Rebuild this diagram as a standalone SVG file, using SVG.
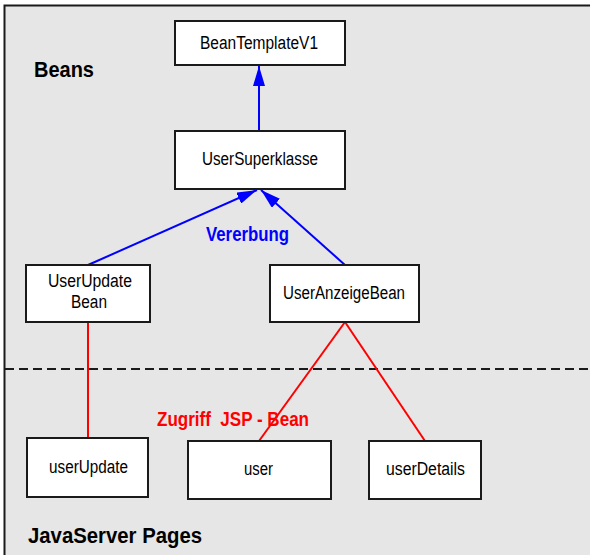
<svg xmlns="http://www.w3.org/2000/svg" width="590" height="555" viewBox="0 0 590 555">
  <style>
    .box { fill: #ffffff; stroke: #1a1a1a; stroke-width: 2; }
    .lbl { font-family: "Liberation Sans", Arial, sans-serif; font-size: 18px; fill: #000; text-anchor: middle; }
    .title { font-family: "Liberation Sans", Arial, sans-serif; font-size: 22px; font-weight: bold; }
    .inherit { stroke: #0000ff; stroke-width: 2; fill: none; marker-end: url(#tri); }
    .access { stroke: #ff0000; stroke-width: 2; fill: none; }
  </style>
  <defs>
    <marker id="tri" markerUnits="userSpaceOnUse" markerWidth="22" markerHeight="12" refX="20" refY="6" orient="auto">
      <path d="M0,0 L20,6 L0,12 Z" fill="#0000ff"/>
    </marker>
  </defs>

  <!-- frame -->
  <rect x="4.5" y="5.5" width="590" height="560" fill="#e6e6e6" stroke="#1a1a1a" stroke-width="2"/>
  <line x1="5" y1="369" x2="590" y2="369" stroke="#1a1a1a" stroke-width="2" stroke-dasharray="9,5"/>

  <!-- section titles -->
  <text class="title" x="34" y="77" textLength="60" lengthAdjust="spacingAndGlyphs">Beans</text>
  <text class="title" x="28" y="543" textLength="174" lengthAdjust="spacingAndGlyphs">JavaServer Pages</text>

  <!-- connectors -->
  <g id="connectors">
    <line class="inherit" x1="259" y1="131" x2="259" y2="66"/>
    <line class="inherit" x1="88" y1="265" x2="257" y2="190"/>
    <line class="inherit" x1="345" y1="265" x2="261" y2="190"/>
    <line class="access" x1="88" y1="322" x2="88" y2="438"/>
    <line class="access" x1="345" y1="322" x2="259" y2="441"/>
    <line class="access" x1="345" y1="322" x2="425" y2="441"/>
    <text x="206" y="241" font-family="Liberation Sans, Arial, sans-serif" font-size="20" font-weight="bold" fill="#0000ff" textLength="83" lengthAdjust="spacingAndGlyphs">Vererbung</text>
    <text x="157" y="426" font-family="Liberation Sans, Arial, sans-serif" font-size="20" font-weight="bold" fill="#ff0000" textLength="152" lengthAdjust="spacingAndGlyphs" xml:space="preserve">Zugriff  JSP - Bean</text>
  </g>

  <!-- bean classes -->
  <g id="BeanTemplateV1">
    <rect class="box" x="175" y="21" width="170" height="44"/>
    <text class="lbl" x="259" y="49" textLength="118" lengthAdjust="spacingAndGlyphs">BeanTemplateV1</text>
  </g>
  <g id="UserSuperklasse">
    <rect class="box" x="175" y="131" width="170" height="58"/>
    <text class="lbl" x="260" y="165" textLength="116" lengthAdjust="spacingAndGlyphs">UserSuperklasse</text>
  </g>
  <g id="UserUpdateBean">
    <rect class="box" x="26" y="265" width="124" height="57"/>
    <text class="lbl" x="90" y="287" textLength="84" lengthAdjust="spacingAndGlyphs">UserUpdate</text>
    <text class="lbl" x="89" y="308" textLength="36" lengthAdjust="spacingAndGlyphs">Bean</text>
  </g>
  <g id="UserAnzeigeBean">
    <rect class="box" x="270" y="265" width="149" height="57"/>
    <text class="lbl" x="344" y="299" textLength="122" lengthAdjust="spacingAndGlyphs">UserAnzeigeBean</text>
  </g>

  <!-- JSP pages -->
  <g id="userUpdate">
    <rect class="box" x="27" y="438" width="121" height="59"/>
    <text class="lbl" x="88.5" y="473" textLength="79" lengthAdjust="spacingAndGlyphs">userUpdate</text>
  </g>
  <g id="user">
    <rect class="box" x="188" y="441" width="143" height="58"/>
    <text class="lbl" x="258.5" y="475" textLength="29" lengthAdjust="spacingAndGlyphs">user</text>
  </g>
  <g id="userDetails">
    <rect class="box" x="369" y="441" width="112" height="58"/>
    <text class="lbl" x="425.5" y="475" textLength="79" lengthAdjust="spacingAndGlyphs">userDetails</text>
  </g>
</svg>
